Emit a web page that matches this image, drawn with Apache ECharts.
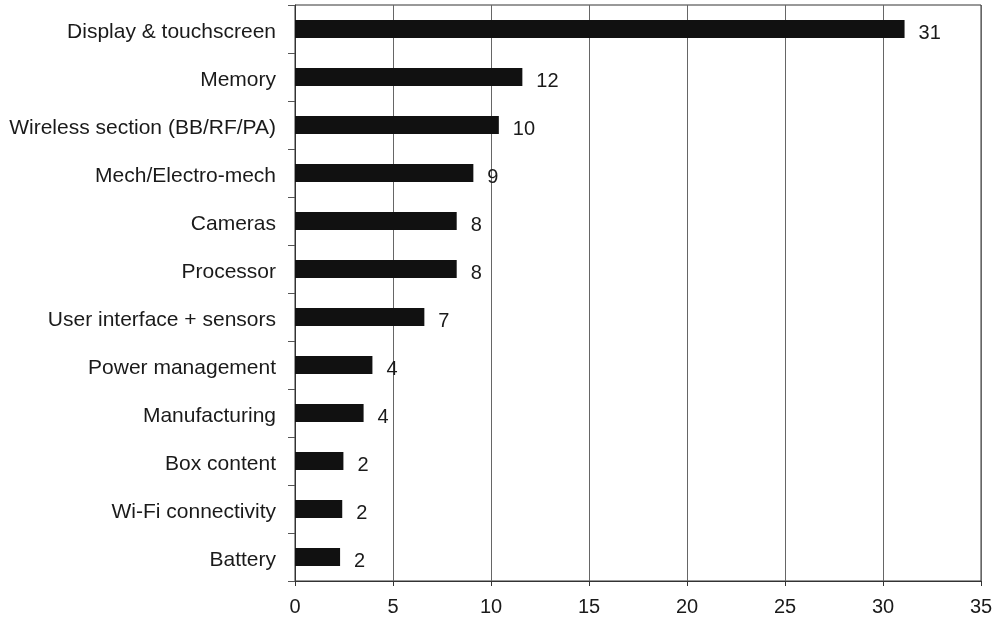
<!DOCTYPE html>
<html>
<head>
<meta charset="utf-8">
<script src="https://cdn.jsdelivr.net/npm/echarts@6/dist/echarts.min.js"></script>
<style>html,body{margin:0;padding:0;background:#fff}#c{width:1000px;height:619px}</style>
</head>
<body>
<div id="c"></div>
<script>
const categories = ["Display & touchscreen","Memory","Wireless section (BB/RF/PA)","Mech/Electro-mech","Cameras","Processor","User interface + sensors","Power management","Manufacturing","Box content","Wi-Fi connectivity","Battery"];
const values = [31.1, 11.6, 10.4, 9.1, 8.25, 8.25, 6.6, 3.95, 3.5, 2.47, 2.41, 2.3];
const valueLabels = ["31","12","10","9","8","8","7","4","4","2","2","2"];
const xTicks = [0,5,10,15,20,25,30,35];

const FONT = "Liberation Sans, Arial, sans-serif";
const chart = echarts.init(document.getElementById('c'), null, {renderer:'canvas'});
chart.setOption({
  animation:false,
  backgroundColor:'#fff',
  grid:{left:295, right:19, top:5, bottom:38, show:true, borderColor:'#333', borderWidth:1, backgroundColor:'transparent'},
  xAxis:{
    type:'value', min:xTicks[0], max:xTicks[xTicks.length-1], interval:5,
    axisLine:{show:true, onZero:false, lineStyle:{color:'#333', width:1}},
    axisTick:{show:true, length:5, lineStyle:{color:'#333'}},
    axisLabel:{color:'#1a1a1a', fontSize:20, fontFamily:FONT, margin:16},
    splitLine:{show:true, lineStyle:{color:'#666', width:1}}
  },
  yAxis:{
    type:'category', data:categories, inverse:true,
    axisLine:{show:true, lineStyle:{color:'#333', width:1}},
    axisTick:{show:true, length:7, alignWithLabel:false, lineStyle:{color:'#555'}},
    axisLabel:{color:'#1a1a1a', fontSize:21, fontFamily:FONT, margin:19, verticalAlign:'top', lineHeight:7},
    splitLine:{show:false}
  },
  series:[{
    type:'bar', data:values, barWidth:18,
    itemStyle:{color:'#111'},
    label:{show:true, position:'right', distance:14, offset:[0,4], color:'#1a1a1a', fontSize:20, fontFamily:FONT,
      formatter:(p)=>valueLabels[p.dataIndex]}
  }]
});
</script>
</body>
</html>
